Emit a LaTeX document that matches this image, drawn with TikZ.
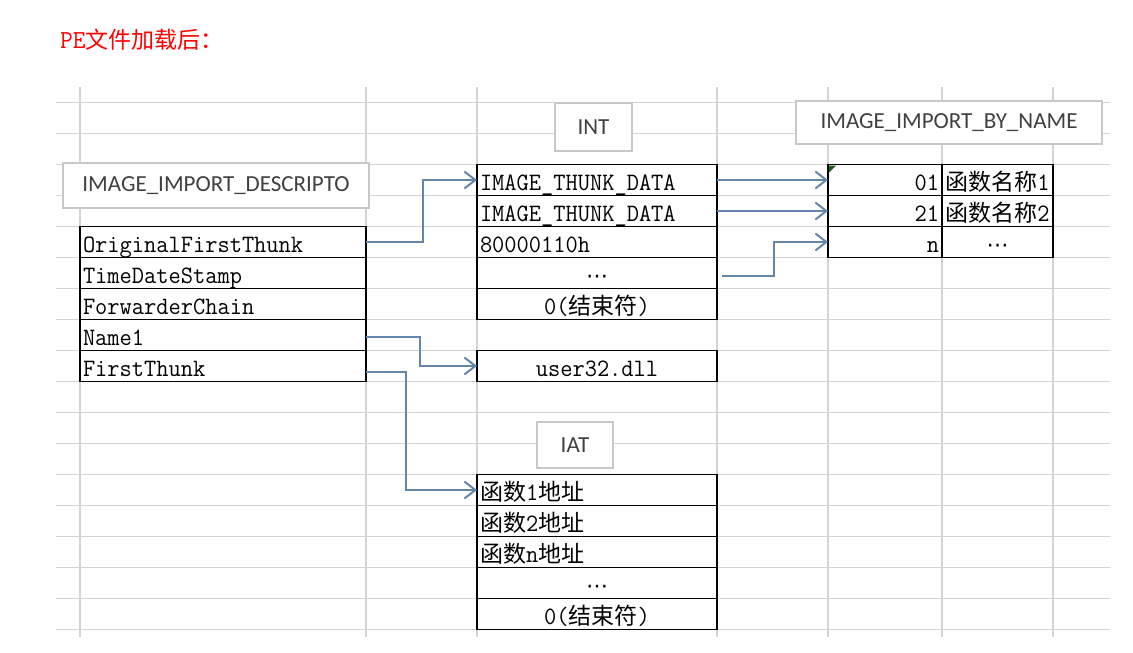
\documentclass[tikz,border=0pt]{standalone}
\usepackage{fontspec}
\usetikzlibrary{arrows.meta}
\setmainfont{Carlito}
\newfontfamily\cellmono[FakeStretch=0.95]{Latin Modern Mono}
\newfontfamily\cjk{Noto Sans CJK SC}
\newfontfamily\symfont{DejaVu Sans}
\newcommand\cellfont{\fontsize{25}{30}\selectfont\cellmono}
\newcommand\zh[1]{{\cjk\fontsize{23}{30}\selectfont #1}}
\newcommand\midell{{\symfont\fontsize{22}{24}\selectfont ⋯}}
\definecolor{arrowblue}{RGB}{100,134,170}
\definecolor{labelgray}{RGB}{64,64,64}
\definecolor{gridgray}{RGB}{212,212,212}
\definecolor{boxgray}{RGB}{200,200,200}
\definecolor{markgreen}{RGB}{30,95,30}
\tikzset{
  gridline/.style={draw=gridgray, line width=1.3pt},
  cell/.style={draw=black, line width=1.6pt, fill=white, rectangle, inner xsep=3pt, inner ysep=0pt, outer sep=0pt,
    text height=26pt, text depth=5pt, anchor=north west, font=\cellfont, text=black},
  lcell/.style={cell, align=left},
  ccell/.style={cell, align=center},
  rcell/.style={cell, align=right},
  tagbox/.style={draw=boxgray, line width=1.5pt, fill=white, rectangle, inner sep=0pt, outer sep=0pt,
    anchor=north west, font=\fontsize{23}{26}\selectfont, text=labelgray},
  conn/.style={draw=arrowblue, line width=2pt, -{Straight Barb[length=11pt,width=17pt,line width=2pt]}},
}
\begin{document}
\begin{tikzpicture}[x=1pt,y=-1pt]
\useasboundingbox (0,0) rectangle (1133,653);
% spreadsheet grid
\foreach \k in {0,...,17} \draw[gridline] (56,{102.5+31*\k}) -- (1110,{102.5+31*\k});
\foreach \xx in {80,366,477,717,828,942,1053} \draw[gridline] (\xx,87) -- (\xx,637);
% title
\node[anchor=base west, text=red, inner sep=0pt] (title) at (60,48) {{\cellmono\fontsize{26}{28}\selectfont PE}{\cjk\fontsize{23}{26}\selectfont 文件加载后：}};
% caption boxes
\node[tagbox, minimum width=306, minimum height=45] (tdesc) at (63,163) {IMAGE\_IMPORT\_DESCRIPTO};
\node[tagbox, minimum width=77, minimum height=48] (tint) at (555,103) {INT};
\node[tagbox, minimum width=306, minimum height=43] (tiibn) at (796,101) {IMAGE\_IMPORT\_BY\_NAME};
\node[tagbox, minimum width=76, minimum height=46] (tiat) at (537,422) {IAT};
% IMAGE_IMPORT_DESCRIPTOR
\node[lcell, text width=280] (d1) at (80,226.5) {OriginalFirstThunk};
\node[lcell, text width=280] (d2) at (80,257.5) {TimeDateStamp};
\node[lcell, text width=280] (d3) at (80,288.5) {ForwarderChain};
\node[lcell, text width=280] (d4) at (80,319.5) {Name1};
\node[lcell, text width=280] (d5) at (80,350.5) {FirstThunk};
% INT
\node[lcell, text width=234] (i1) at (477,164.5) {IMAGE\_THUNK\_DATA};
\node[lcell, text width=234] (i2) at (477,195.5) {IMAGE\_THUNK\_DATA};
\node[lcell, text width=234] (i3) at (477,226.5) {80000110h};
\node[ccell, text width=234] (i4) at (477,257.5) {\midell};
\node[ccell, text width=234] (i5) at (477,288.5) {0(\zh{结束符})};
\node[ccell, text width=234] (dll) at (477,350.5) {user32.dll};
% IMAGE_IMPORT_BY_NAME
\node[rcell, text width=108] (n1) at (828,164.5) {01};
\node[rcell, text width=108] (n2) at (828,195.5) {21};
\node[rcell, text width=108] (n3) at (828,226.5) {n};
\node[ccell, text width=105] (m1) at (942,164.5) {\zh{函数名称}1};
\node[ccell, text width=105] (m2) at (942,195.5) {\zh{函数名称}2};
\node[ccell, text width=105] (m3) at (942,226.5) {\midell};
\fill[markgreen] (829,165.5) -- (836,165.5) -- (829,172.5) -- cycle;
% IAT
\node[lcell, text width=234] (a1) at (477,474.5) {\zh{函数}1\zh{地址}};
\node[lcell, text width=234] (a2) at (477,505.5) {\zh{函数}2\zh{地址}};
\node[lcell, text width=234] (a3) at (477,536.5) {\zh{函数}n\zh{地址}};
\node[ccell, text width=234] (a4) at (477,567.5) {\midell};
\node[ccell, text width=234] (a5) at (477,598.5) {0(\zh{结束符})};
% connectors
\draw[conn] (d1.east) -- ++(57,0) |- (i1.west);
\draw[conn] (i1.east) -- (n1.west);
\draw[conn] (i2.east) -- (n2.west);
\draw[conn] ([xshift=5pt,yshift=-3pt]i4.east) -- ++(52,0) |- (n3.west);
\draw[conn] ([yshift=-2pt]d4.east) -- ++(54,0) |- (dll.west);
\draw[conn] ([yshift=-6pt]d5.east) -- ++(40,0) |- (a1.west);
\end{tikzpicture}
\end{document}
